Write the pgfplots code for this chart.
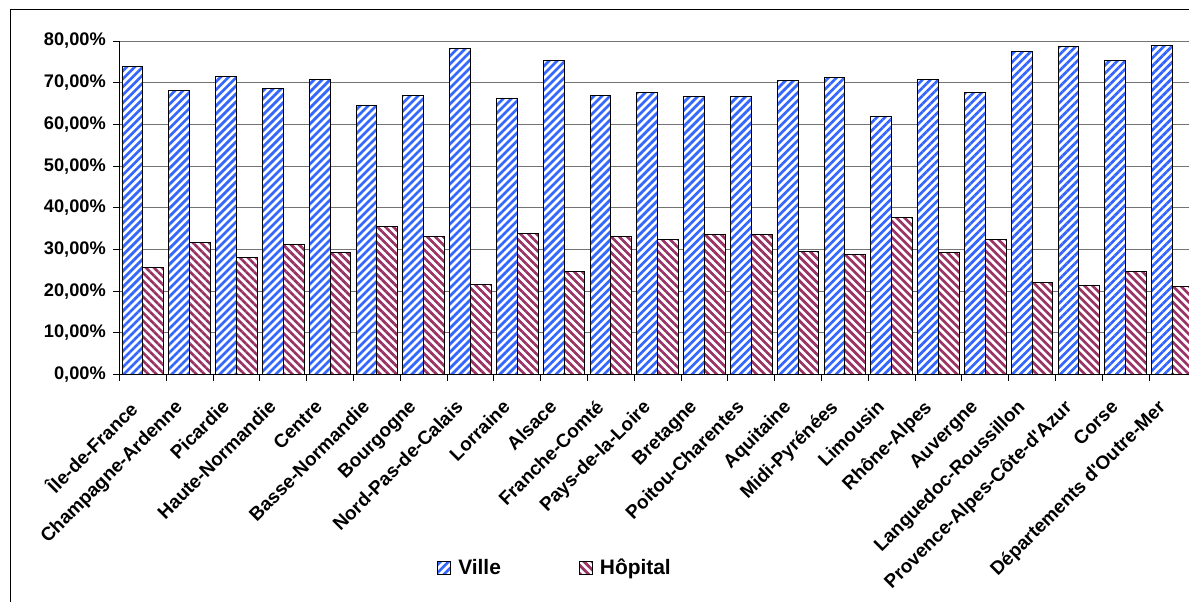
\documentclass[border=0pt]{standalone}
\usepackage{fontspec}
\setmainfont{Liberation Sans}
\newfontfamily\plainsans{Liberation Sans}
\usepackage{pgfplots}
\usepackage{pgfplotstable}
\pgfplotsset{compat=1.18}
\usetikzlibrary{patterns.meta}
\definecolor{ville}{HTML}{3366FF}
\definecolor{hop}{HTML}{993366}
\newcommand{\apos}{{\plainsans'}}

\pgfplotstableread{
x ville hop
0 74.0 25.6
1 68.1 31.6
2 71.5 28.1
3 68.7 31.3
4 70.8 29.2
5 64.5 35.6
6 67.0 33.1
7 78.2 21.7
8 66.3 33.8
9 75.4 24.6
10 67.0 33.1
11 67.7 32.3
12 66.6 33.5
13 66.6 33.5
14 70.6 29.5
15 71.2 28.8
16 62.0 37.6
17 70.8 29.2
18 67.7 32.3
19 77.6 22.0
20 78.6 21.4
21 75.4 24.6
22 79.0 21.1
}\data

\begin{document}
\begin{tikzpicture}
\useasboundingbox (-119.5bp,-227.5bp) rectangle (1069.5bp,374.5bp);
\draw[line width=1bp] (-109bp,-400bp) rectangle (1300bp,364.5bp);
\begin{axis}[
  scale only axis, width=1076.4bp, height=333.5bp,
  xmin=-0.5, xmax=22.5, ymin=0, ymax=80,
  axis x line=bottom, axis y line=left,
  axis line style={-, line width=1bp, black},
  ybar=0pt, bar width=20.8bp,
  xtick={0,...,22},
  xticklabels={Île-de-France,Champagne-Ardenne,Picardie,Haute-Normandie,Centre,Basse-Normandie,Bourgogne,Nord-Pas-de-Calais,Lorraine,Alsace,Franche-Comté,Pays-de-la-Loire,Bretagne,Poitou-Charentes,Aquitaine,Midi-Pyrénées,Limousin,Rhône-Alpes,Auvergne,Languedoc-Roussillon,Provence-Alpes-Côte-d\apos Azur,Corse,Départements d\apos Outre-Mer},
  minor xtick={-0.5,0.5,...,21.5},
  ytick={0,10,...,80},
  yticklabels={{0,00\%},{10,00\%},{20,00\%},{30,00\%},{40,00\%},{50,00\%},{60,00\%},{70,00\%},{80,00\%}},
  minor ytick={0,10,...,80},
  major tick length=0pt, minor tick length=6bp, tick align=outside,
  tick style={black, line width=0.8bp},
  ymajorgrids, major grid style={black!55, line width=0.8bp},
  yticklabel style={font=\fontsize{18.3}{18.3}\selectfont\bfseries, inner sep=0pt, xshift=-13.5bp},
  xticklabel style={font=\fontsize{19}{19}\selectfont\bfseries, inner sep=0pt, anchor=north east, xshift=-16bp, yshift=-24bp, rotate=45},
  legend columns=2,
  legend style={at={(0.4037,-0.580)}, anchor=center, draw=none, fill=none, inner sep=0pt,
    font=\fontsize{21}{21}\selectfont\bfseries,
    nodes={inner sep=0pt},
    /tikz/every odd column/.append style={column sep=7bp},
    /tikz/every even column/.append style={column sep=78bp}},
  legend image code/.code={\draw[#1,line width=1bp] (0bp,-6.5bp) rectangle (13bp,6.5bp);},
]
\addplot[draw=black, line width=1bp, fill=white,
  postaction={pattern={Lines[angle=45,distance=5.66bp,line width=2.7bp]}, pattern color=ville}]
  table[x=x, y=ville]{\data};
\addplot[draw=black, line width=1bp, fill=white,
  postaction={pattern={Lines[angle=-45,distance=5.66bp,line width=2.7bp]}, pattern color=hop}]
  table[x=x, y=hop]{\data};
\legend{Ville, Hôpital}
\end{axis}
\end{tikzpicture}
\end{document}
